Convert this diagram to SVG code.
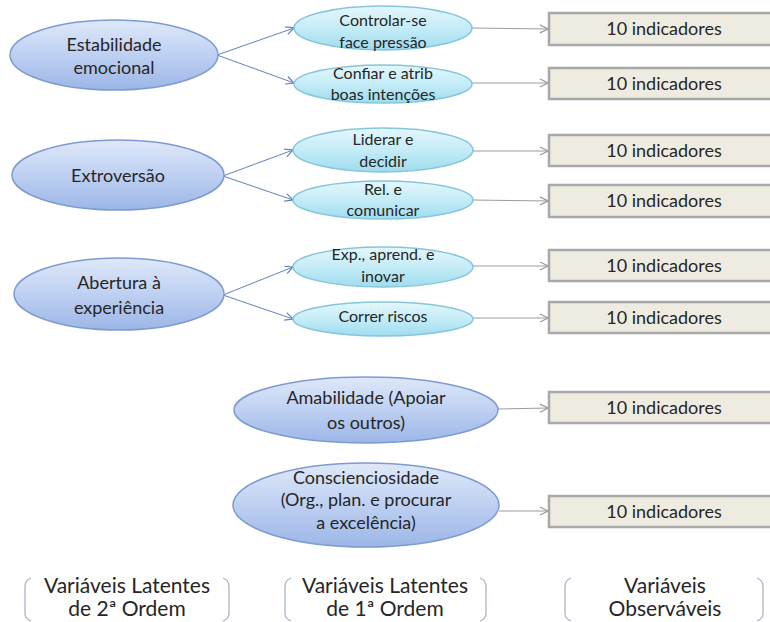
<svg xmlns="http://www.w3.org/2000/svg" width="770" height="622" viewBox="0 0 770 622">
  <defs>
    <linearGradient id="gBig" x1="0" y1="0" x2="0" y2="1">
      <stop offset="0" stop-color="#dfe8f8"/>
      <stop offset="0.5" stop-color="#bed0f2"/>
      <stop offset="1" stop-color="#9cb6e6"/>
    </linearGradient>
    <linearGradient id="gSmall" x1="0" y1="0" x2="0" y2="1">
      <stop offset="0" stop-color="#e4f7fc"/>
      <stop offset="0.5" stop-color="#c4ecf7"/>
      <stop offset="1" stop-color="#9fdcee"/>
    </linearGradient>
    <marker id="ab" viewBox="0 0 10 10" refX="9" refY="5" markerWidth="10" markerHeight="10" markerUnits="userSpaceOnUse" orient="auto">
      <path d="M1,1 L9,5 L1,9" fill="none" stroke="#5f82b8" stroke-width="1.2"/>
    </marker>
    <marker id="ag" viewBox="0 0 10 10" refX="9" refY="5" markerWidth="10" markerHeight="10" markerUnits="userSpaceOnUse" orient="auto">
      <path d="M1,1 L9,5 L1,9" fill="none" stroke="#9a9a9a" stroke-width="1.2"/>
    </marker>
  </defs>
  <style>
    text { font-family: Lato, "Liberation Sans", sans-serif; fill: #262626; text-anchor: middle; }
    .big { fill: url(#gBig); stroke: #7d9bd0; stroke-width: 1.5; }
    .small { fill: url(#gSmall); stroke: #86c6da; stroke-width: 1.5; }
    .box { fill: #eeece1; stroke: #a8a8a8; stroke-width: 2.5; }
    .tb { font-size: 18px; }
    .ts { font-size: 16px; }
    .tr { font-size: 18px; }
    .tl { font-size: 21px; }
    .cb { stroke: #5f82b8; stroke-width: 1; fill: none; marker-end: url(#ab); }
    .cg { stroke: #9a9a9a; stroke-width: 1; fill: none; marker-end: url(#ag); }
    .br { stroke: #a9b4c6; stroke-width: 1.3; fill: none; }
  </style>

  <g id="connectors">
    <line class="cb" x1="217" y1="55" x2="294" y2="28"/>
    <line class="cb" x1="217" y1="55" x2="294" y2="83"/>
    <line class="cb" x1="223" y1="176" x2="293" y2="150"/>
    <line class="cb" x1="223" y1="176" x2="293" y2="200"/>
    <line class="cb" x1="223" y1="295" x2="293" y2="267"/>
    <line class="cb" x1="223" y1="295" x2="293" y2="319"/>
    <line class="cg" x1="472" y1="28" x2="548" y2="29"/>
    <line class="cg" x1="472" y1="83" x2="548" y2="83"/>
    <line class="cg" x1="472" y1="151" x2="548" y2="151"/>
    <line class="cg" x1="472" y1="200" x2="548" y2="201"/>
    <line class="cg" x1="472" y1="266" x2="548" y2="266"/>
    <line class="cg" x1="472" y1="318" x2="548" y2="318"/>
    <line class="cg" x1="498" y1="409" x2="548" y2="408"/>
    <line class="cg" x1="499" y1="511" x2="548" y2="511"/>
  </g>

  <g id="estabilidade">
    <ellipse class="big" cx="114" cy="55" rx="104" ry="35"/>
    <text class="tb" x="114" y="51">Estabilidade</text>
    <text class="tb" x="114" y="74">emocional</text>
  </g>
  <g id="extroversao">
    <ellipse class="big" cx="118" cy="175" rx="106" ry="35"/>
    <text class="tb" x="118" y="182">Extroversão</text>
  </g>
  <g id="abertura">
    <ellipse class="big" cx="119" cy="294" rx="105" ry="36"/>
    <text class="tb" x="119" y="289">Abertura à</text>
    <text class="tb" x="119" y="314">experiência</text>
  </g>
  <g id="amabilidade">
    <ellipse class="big" cx="366" cy="410" rx="132" ry="33"/>
    <text class="tb" x="366" y="404">Amabilidade (Apoiar</text>
    <text class="tb" x="366" y="429">os outros)</text>
  </g>
  <g id="conscienciosidade">
    <ellipse class="big" cx="366" cy="505" rx="133" ry="42"/>
    <text class="tb" x="366" y="484">Conscienciosidade</text>
    <text class="tb" x="366" y="506">(Org., plan. e procurar</text>
    <text class="tb" x="366" y="529">a excelência)</text>
  </g>

  <g id="controlar">
    <ellipse class="small" cx="383" cy="28" rx="89" ry="22"/>
    <text class="ts" x="383" y="26">Controlar-se</text>
    <text class="ts" x="383" y="48">face pressão</text>
  </g>
  <g id="confiar">
    <ellipse class="small" cx="383" cy="84" rx="89" ry="19"/>
    <text class="ts" x="383" y="79">Confiar e atrib</text>
    <text class="ts" x="383" y="100">boas intenções</text>
  </g>
  <g id="liderar">
    <ellipse class="small" cx="383" cy="150" rx="90" ry="22"/>
    <text class="ts" x="383" y="145">Liderar e</text>
    <text class="ts" x="383" y="167">decidir</text>
  </g>
  <g id="relacionar">
    <ellipse class="small" cx="383" cy="200" rx="90" ry="19"/>
    <text class="ts" x="383" y="195">Rel. e</text>
    <text class="ts" x="383" y="216">comunicar</text>
  </g>
  <g id="explorar">
    <ellipse class="small" cx="383" cy="267" rx="90" ry="20"/>
    <text class="ts" x="383" y="260">Exp., aprend. e</text>
    <text class="ts" x="383" y="282">inovar</text>
  </g>
  <g id="correr">
    <ellipse class="small" cx="383" cy="319" rx="90" ry="17"/>
    <text class="ts" x="383" y="322">Correr riscos</text>
  </g>

  <g id="ind1"><rect class="box" x="549" y="13" width="240" height="32"/><text class="tr" x="664" y="35">10 indicadores</text></g>
  <g id="ind2"><rect class="box" x="549" y="68" width="240" height="31"/><text class="tr" x="664" y="90">10 indicadores</text></g>
  <g id="ind3"><rect class="box" x="549" y="135" width="240" height="31"/><text class="tr" x="664" y="157">10 indicadores</text></g>
  <g id="ind4"><rect class="box" x="549" y="185" width="240" height="32"/><text class="tr" x="664" y="207">10 indicadores</text></g>
  <g id="ind5"><rect class="box" x="549" y="250" width="240" height="31"/><text class="tr" x="664" y="272">10 indicadores</text></g>
  <g id="ind6"><rect class="box" x="549" y="302" width="240" height="31"/><text class="tr" x="664" y="324">10 indicadores</text></g>
  <g id="ind7"><rect class="box" x="549" y="392" width="240" height="31"/><text class="tr" x="664" y="414">10 indicadores</text></g>
  <g id="ind8"><rect class="box" x="549" y="496" width="240" height="31"/><text class="tr" x="664" y="518">10 indicadores</text></g>

  <g id="label-2ordem">
    <path class="br" d="M31,578 Q25,580 25,587 L25,613 Q25,619 31,621"/>
    <path class="br" d="M223,578 Q229,580 229,587 L229,613 Q229,619 223,621"/>
    <text class="tl" x="127" y="593">Variáveis Latentes</text>
    <text class="tl" x="127" y="616">de 2ª Ordem</text>
  </g>
  <g id="label-1ordem">
    <path class="br" d="M291,578 Q285,580 285,587 L285,613 Q285,619 291,621"/>
    <path class="br" d="M480,578 Q486,580 486,587 L486,613 Q486,619 480,621"/>
    <text class="tl" x="385" y="593">Variáveis Latentes</text>
    <text class="tl" x="385" y="616">de 1ª Ordem</text>
  </g>
  <g id="label-observaveis">
    <path class="br" d="M571,578 Q565,580 565,587 L565,613 Q565,619 571,621"/>
    <path class="br" d="M757,578 Q763,580 763,587 L763,613 Q763,619 757,621"/>
    <text class="tl" x="665" y="593">Variáveis</text>
    <text class="tl" x="665" y="616">Observáveis</text>
  </g>
</svg>
